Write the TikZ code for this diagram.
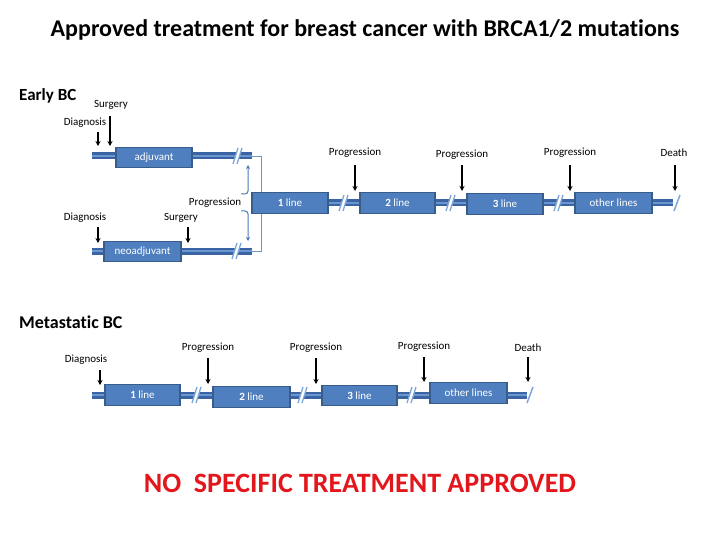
\documentclass[tikz,border=0pt]{standalone}
\usepackage{fontspec}
\setmainfont{Carlito}[Ligatures=NoCommon]
\usetikzlibrary{arrows.meta}
\definecolor{boxfill}{HTML}{4F7FBF}
\definecolor{boxedge}{HTML}{385D8A}
\definecolor{barout}{HTML}{3A64A3}
\definecolor{barin}{HTML}{6B97D0}
\definecolor{slashc}{HTML}{7FA6D8}
\definecolor{thinc}{HTML}{7393C0}
\definecolor{progc}{HTML}{4A78B5}
\definecolor{nored}{HTML}{E3161B}
\begin{document}
\begin{tikzpicture}[x=1pt,y=-1pt,
  lbl/.style={font=\fontsize{11}{12}\selectfont, inner sep=0},
  hdr/.style={font=\bfseries\fontsize{17}{19}\selectfont, inner sep=0, anchor=west},
  box/.style={draw=boxedge, fill=boxfill, line width=1.3pt, text=white,
    font=\fontsize{11}{12}\selectfont, inner sep=0, minimum height=20.5},
  bar/.style={draw=barout, double=barin, double distance=1.8pt, line width=2.6pt},
  arr/.style={-{Stealth[length=5pt,width=5pt]}, line width=1.4pt, black},
  thinline/.style={draw=thinc, line width=0.8pt},
  progarr/.style={draw=progc, line width=1pt, rounded corners=3pt, -{Stealth[length=4pt,width=4pt]}},
  brk/.pic={\fill[white] (-5,8) -- (-1,8) -- (4,-8) -- (0,-8) -- cycle;
            \draw[slashc, line width=1.3pt] (-5,8) -- (0,-8) (-1,8) -- (4,-8);},
  endslash/.pic={\draw[slashc, line width=1.5pt] (-3,8) -- (3,-8);}
]
\useasboundingbox (0,0) rectangle (720,540);

% title
\node[font=\bfseries\fontsize{24}{28}\selectfont, inner sep=0] (title) at (365,30)
  {Approved treatment for breast cancer with BRCA1/2 mutations};

% ---------------- Early BC ----------------
\node[hdr] (ebc) at (19,96) {Early BC};

% coordinates of bars
\coordinate (a0) at (92,156);
\coordinate (a9) at (252,156);
\coordinate (n0) at (92,251);
\coordinate (n9) at (252,251);
\coordinate (r0) at (252,203);
\coordinate (r9) at (673,203);

% bracket joining the two early rows
\draw[thinline] (a9) -- ++(9,0) |- (n9);

\draw[bar] (a0) -- (a9);
\draw[bar] (n0) -- (n9);
\draw[bar] (r0) -- (r9);

\path (238,156) pic {brk};
\path (237,251) pic {brk};
\path (344,203) pic {brk};
\path (451,203) pic {brk};
\path (559,203) pic {brk};
\path (677,203) pic {endslash};

\node[box, minimum width=76] (adj) at (154,157.5) {adjuvant};
\node[box, minimum width=77] (neo) at (142.5,251.5) {neoadjuvant};
\node[box, minimum width=76] (l1) at (290,203) {\textbf{1} line};
\node[box, minimum width=75] (l2) at (397.5,203) {\textbf{2} line};
\node[box, minimum width=76] (l3) at (505,204) {\textbf{3} line};
\node[box, minimum width=77] (lo) at (613.5,203) {other lines};

% labels early BC
\node[lbl] (surg1) at (111,105) {Surgery};
\node[lbl] (diag1) at (85,123) {Diagnosis};
\node[lbl] (diag2) at (85,218) {Diagnosis};
\node[lbl] (surg2) at (181,218) {Surgery};
\node[lbl] (prog0) at (215,203) {Progression};
\node[lbl] (prog1) at (355,153) {Progression};
\node[lbl] (prog2) at (462,155) {Progression};
\node[lbl] (prog3) at (570,153) {Progression};
\node[lbl] (death1) at (674,153) {Death};

\coordinate (d1s) at (98,132);  \coordinate (d1e) at (98,146);
\coordinate (s1s) at (110,116); \coordinate (s1e) at (110,146);
\coordinate (d2s) at (98,227);  \coordinate (d2e) at (98,243);
\coordinate (s2s) at (188,227); \coordinate (s2e) at (188,243);
\draw[arr] (d1s) -- (d1e);
\draw[arr] (s1s) -- (s1e);
\draw[arr] (d2s) -- (d2e);
\draw[arr] (s2s) -- (s2e);

\coordinate (p1s) at (355,165); \coordinate (p1e) at (355,191);
\coordinate (p2s) at (462,165); \coordinate (p2e) at (462,191);
\coordinate (p3s) at (570,165); \coordinate (p3e) at (570,191);
\coordinate (x1s) at (675,165); \coordinate (x1e) at (675,191);
\draw[arr] (p1s) -- (p1e);
\draw[arr] (p2s) -- (p2e);
\draw[arr] (p3s) -- (p3e);
\draw[arr] (x1s) -- (x1e);

% progression bracket arrows
\coordinate (pu0) at (241,194); \coordinate (pu1) at (248,194); \coordinate (pu2) at (248,165);
\coordinate (pd0) at (241,211); \coordinate (pd1) at (248,211); \coordinate (pd2) at (248,241);
\draw[progarr] (pu0) -- (pu1) -- (pu2);
\draw[progarr] (pd0) -- (pd1) -- (pd2);

% ---------------- Metastatic BC ----------------
\node[hdr, font=\bfseries\fontsize{18}{20}\selectfont] (mbc) at (19,322) {Metastatic BC};

\coordinate (m0) at (92,395);
\coordinate (m9) at (527,395);
\draw[bar] (m0) -- (m9);
\path (197,395) pic {brk};
\path (303,395) pic {brk};
\path (412,395) pic {brk};
\path (530,395) pic {endslash};

\node[box, minimum width=75] (m1) at (142.5,395) {\textbf{1} line};
\node[box, minimum width=77] (m2) at (251.5,397) {\textbf{2} line};
\node[box, minimum width=75] (m3) at (359.5,395.5) {\textbf{3} line};
\node[box, minimum width=77] (mo) at (468.5,393) {other lines};

\node[lbl] (diag3) at (86,360) {Diagnosis};
\node[lbl] (mp1) at (208,348) {Progression};
\node[lbl] (mp2) at (316,348) {Progression};
\node[lbl] (mp3) at (424,347) {Progression};
\node[lbl] (death2) at (528,348) {Death};

\coordinate (md0s) at (100,370); \coordinate (md0e) at (100,385);
\coordinate (mp1s) at (208,358); \coordinate (mp1e) at (208,384);
\coordinate (mp2s) at (316,358); \coordinate (mp2e) at (316,384);
\coordinate (mp3s) at (424,357); \coordinate (mp3e) at (424,382);
\coordinate (mx1s) at (528,357); \coordinate (mx1e) at (528,382);
\draw[arr] (md0s) -- (md0e);
\draw[arr] (mp1s) -- (mp1e);
\draw[arr] (mp2s) -- (mp2e);
\draw[arr] (mp3s) -- (mp3e);
\draw[arr] (mx1s) -- (mx1e);

% ---------------- bottom message ----------------
\node[font=\bfseries\fontsize{28}{32}\selectfont, text=nored, inner sep=0] (none) at (360,483)
  {NO\ \ SPECIFIC TREATMENT APPROVED};
\end{tikzpicture}
\end{document}
